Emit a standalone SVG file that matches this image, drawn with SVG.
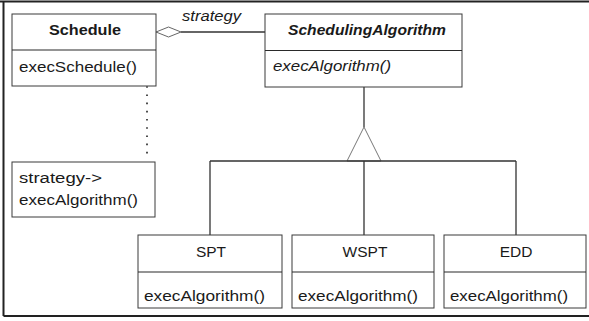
<svg xmlns="http://www.w3.org/2000/svg" width="589" height="321" viewBox="0 0 589 321">
  <style>
    .box { fill: #ffffff; stroke: #3a3a3a; stroke-width: 1; }
    .div { stroke: #2a2a2a; stroke-width: 1.2; }
    .ln { fill: none; stroke: #333333; stroke-width: 1.3; }
    .tri { fill: #ffffff; stroke: #777777; stroke-width: 1; }
    .frame { fill: none; stroke: #222222; stroke-width: 2; }
    text { font-family: "Liberation Sans", Arial, sans-serif; font-size: 15.5px; fill: #1a1a1a; }
    .b { font-weight: bold; }
    .i { font-style: italic; }
    .c { text-anchor: middle; }
  </style>

  <!-- outer frame -->
  <path class="frame" d="M0 1.5 H589 M3.5 1.5 V316 M3.5 316 H589"/>

  <!-- connectors -->
  <g id="connectors">
    <!-- aggregation Schedule -> SchedulingAlgorithm -->
    <polygon points="156,32 168.5,27 181,32 168.5,37" fill="#ffffff" stroke="#666666" stroke-width="1"/>
    <line class="ln" x1="181" y1="32" x2="265" y2="32"/>
    <text class="i" x="182" y="21" textLength="59" lengthAdjust="spacingAndGlyphs">strategy</text>
    <!-- note anchor -->
    <circle cx="147" cy="70" r="3.5" fill="#ffffff" stroke="#111111" stroke-width="1.6"/>
    <line x1="147" y1="78" x2="147" y2="156" stroke="#222222" stroke-width="1.6" stroke-dasharray="1.6 6.6"/>
    <!-- generalization -->
    <line class="ln" x1="364" y1="87" x2="364" y2="127"/>
    <polygon class="tri" points="364,127 347,161 381,161"/>
    <path class="ln" d="M210 161 H516 M210 161 V235 M364 161 V235 M516 161 V235"/>
  </g>

  <!-- Schedule -->
  <g id="schedule">
    <rect class="box" x="12" y="14" width="144" height="72"/>
    <line class="div" x1="12" y1="50" x2="156" y2="50"/>
    <text class="b" x="49" y="35" textLength="72" lengthAdjust="spacingAndGlyphs">Schedule</text>
    <text x="19" y="72" textLength="118" lengthAdjust="spacingAndGlyphs">execSchedule()</text>
  </g>

  <!-- SchedulingAlgorithm -->
  <g id="scheduling-algorithm">
    <rect class="box" x="265" y="14" width="197" height="73"/>
    <line class="div" x1="265" y1="50.5" x2="462" y2="50.5"/>
    <text class="b i" x="288" y="35" textLength="158" lengthAdjust="spacingAndGlyphs">SchedulingAlgorithm</text>
    <text class="i" x="273" y="71" textLength="118" lengthAdjust="spacingAndGlyphs">execAlgorithm()</text>
  </g>

  <!-- note -->
  <g id="note">
    <rect class="box" x="12" y="162" width="143" height="55"/>
    <text x="19" y="183" textLength="83" lengthAdjust="spacingAndGlyphs">strategy-&gt;</text>
    <text x="19" y="205" textLength="119" lengthAdjust="spacingAndGlyphs">execAlgorithm()</text>
  </g>

  <!-- SPT -->
  <g id="spt">
    <rect class="box" x="138" y="235" width="144" height="73"/>
    <line class="div" x1="138" y1="272" x2="282" y2="272"/>
    <text class="c" x="211" y="257">SPT</text>
    <text x="144" y="301" textLength="121" lengthAdjust="spacingAndGlyphs">execAlgorithm()</text>
  </g>

  <!-- WSPT -->
  <g id="wspt">
    <rect class="box" x="292" y="235" width="142" height="73"/>
    <line class="div" x1="292" y1="272" x2="434" y2="272"/>
    <text class="c" x="365" y="257">WSPT</text>
    <text x="298" y="301" textLength="120" lengthAdjust="spacingAndGlyphs">execAlgorithm()</text>
  </g>

  <!-- EDD -->
  <g id="edd">
    <rect class="box" x="444" y="235" width="142" height="73"/>
    <line class="div" x1="444" y1="272" x2="586" y2="272"/>
    <text class="c" x="516" y="257">EDD</text>
    <text x="450" y="301" textLength="118" lengthAdjust="spacingAndGlyphs">execAlgorithm()</text>
  </g>
</svg>
